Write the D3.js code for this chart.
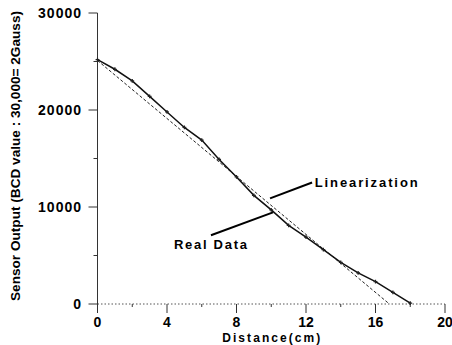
<!DOCTYPE html>
<html>
<head>
<meta charset="utf-8">
<script src="https://cdn.jsdelivr.net/npm/d3@7"></script>
<style>
  body { margin: 0; background: #fff; }
  svg { display: block; font-family: "Liberation Sans", Arial, sans-serif; }
</style>
</head>
<body>
<div id="chart"></div>
<script>
// Measured curve (cm, BCD value).
const distance = [0, 1, 2, 3, 4, 5, 6, 7, 8, 9, 10, 11, 12, 13, 14, 15, 16, 17, 18];
const realData = [25200, 24200, 23000, 21400, 19800, 18200, 16900, 14900, 13100, 11200,
  9700, 8100, 6900, 5600, 4300, 3200, 2300, 1200, 100];

// Fitted straight line, end points only.
const linearX = [0, 16.8];
const linearY = [25100, 0];

const xTicks = [0, 4, 8, 12, 16, 20];
const xMinorTicks = [2, 6, 10, 14, 18];
const yTicks = [0, 10000, 20000, 30000];
const yMinorTicks = [5000, 15000, 25000];

const xTitle = 'Distance(cm)';
const yTitle = 'Sensor Output (BCD value : 30,000= 2Gauss)';

// Labels with leader lines, in data units.
const notes = [
  { text: 'Linearization', from: [9.93, 10890], to: [12.35, 12530], at: [12.5, 12530], len: 103 },
  { text: 'Real Data', from: [6.53, 7090], to: [10.1, 9450], at: [4.4, 6160], len: 73 },
];

const attrs = {
  svgWidth: 452,
  svgHeight: 345,
  left: 97.5,
  right: 445,
  top: 13,
  bottom: 304,
};

const svg = d3.select('#chart')
  .append('svg')
  .attr('width', attrs.svgWidth)
  .attr('height', attrs.svgHeight);

const xScale = d3.scaleLinear().domain([0, 20]).range([attrs.left, attrs.right]);
const yScale = d3.scaleLinear().domain([0, 30000]).range([attrs.bottom, attrs.top]);

// X axis: dotted base line with major and minor ticks pointing down.
svg.append('line')
  .attr('x1', xScale(0)).attr('x2', xScale(20))
  .attr('y1', yScale(0)).attr('y2', yScale(0))
  .attr('stroke', '#555')
  .attr('stroke-dasharray', '1.5 2');

svg.selectAll('.x-major')
  .data(xTicks)
  .enter()
  .append('line')
  .attr('class', 'x-major')
  .attr('x1', d => xScale(d)).attr('x2', d => xScale(d))
  .attr('y1', yScale(0)).attr('y2', yScale(0) + 9)
  .attr('stroke', '#333');

svg.selectAll('.x-minor')
  .data(xMinorTicks)
  .enter()
  .append('line')
  .attr('class', 'x-minor')
  .attr('x1', d => xScale(d)).attr('x2', d => xScale(d))
  .attr('y1', yScale(0)).attr('y2', yScale(0) + 3)
  .attr('stroke', '#333');

svg.selectAll('.x-label')
  .data(xTicks)
  .enter()
  .append('text')
  .attr('class', 'x-label')
  .attr('x', d => xScale(d))
  .attr('y', yScale(0) + 23)
  .attr('text-anchor', 'middle')
  .attr('font-size', 14)
  .attr('font-weight', 'bold')
  .text(d => d);

svg.append('text')
  .attr('x', (attrs.left + attrs.right) / 2)
  .attr('y', yScale(0) + 38)
  .attr('text-anchor', 'middle')
  .attr('font-size', 12)
  .attr('font-weight', 'bold')
  .attr('textLength', 98)
  .text(xTitle);

// Y axis: solid line with ticks pointing left.
svg.append('line')
  .attr('x1', xScale(0)).attr('x2', xScale(0))
  .attr('y1', yScale(30000)).attr('y2', yScale(0))
  .attr('stroke', '#333');

svg.selectAll('.y-major')
  .data(yTicks)
  .enter()
  .append('line')
  .attr('class', 'y-major')
  .attr('x1', xScale(0) - 9).attr('x2', xScale(0))
  .attr('y1', d => yScale(d)).attr('y2', d => yScale(d))
  .attr('stroke', '#333');

svg.selectAll('.y-minor')
  .data(yMinorTicks)
  .enter()
  .append('line')
  .attr('class', 'y-minor')
  .attr('x1', xScale(0) - 4).attr('x2', xScale(0))
  .attr('y1', d => yScale(d)).attr('y2', d => yScale(d))
  .attr('stroke', '#333');

svg.selectAll('.y-label')
  .data(yTicks)
  .enter()
  .append('text')
  .attr('class', 'y-label')
  .attr('x', 82)
  .attr('y', d => yScale(d) + 5)
  .attr('text-anchor', 'end')
  .attr('font-size', 14)
  .attr('font-weight', 'bold')
  .attr('letter-spacing', 1)
  .text(d => d);

svg.append('text')
  .attr('transform', 'translate(20,' + ((10 + 302) / 2) + ') rotate(-90)')
  .attr('text-anchor', 'middle')
  .attr('font-size', 13)
  .attr('font-weight', 'bold')
  .attr('textLength', 290)
  .attr('lengthAdjust', 'spacingAndGlyphs')
  .text(yTitle);

// Lines.
const line = d3.line()
  .x(d => xScale(d[0]))
  .y(d => yScale(d[1]));

svg.append('path')
  .attr('d', line(d3.zip(linearX, linearY)))
  .attr('fill', 'none')
  .attr('stroke', '#222')
  .attr('stroke-width', 1)
  .attr('stroke-dasharray', '3 2');

const realPoints = d3.zip(distance, realData);

svg.append('path')
  .attr('d', line(realPoints))
  .attr('fill', 'none')
  .attr('stroke', '#111')
  .attr('stroke-width', 1.5);

svg.selectAll('.marker')
  .data(realPoints)
  .enter()
  .append('path')
  .attr('class', 'marker')
  .attr('d', d3.symbol(d3.symbolCross, 8))
  .attr('transform', d => 'translate(' + xScale(d[0]) + ',' + yScale(d[1]) + ')')
  .attr('fill', '#222');

// Annotations.
svg.selectAll('.note-line')
  .data(notes)
  .enter()
  .append('line')
  .attr('class', 'note-line')
  .attr('x1', d => xScale(d.from[0])).attr('y1', d => yScale(d.from[1]))
  .attr('x2', d => xScale(d.to[0])).attr('y2', d => yScale(d.to[1]))
  .attr('stroke', '#000')
  .attr('stroke-width', 2);

svg.selectAll('.note-text')
  .data(notes)
  .enter()
  .append('text')
  .attr('class', 'note-text')
  .attr('x', d => xScale(d.at[0]))
  .attr('y', d => yScale(d.at[1]) + 5)
  .attr('font-size', 13)
  .attr('font-weight', 'bold')
  .attr('textLength', d => d.len)
  .text(d => d.text);
</script>
</body>
</html>
